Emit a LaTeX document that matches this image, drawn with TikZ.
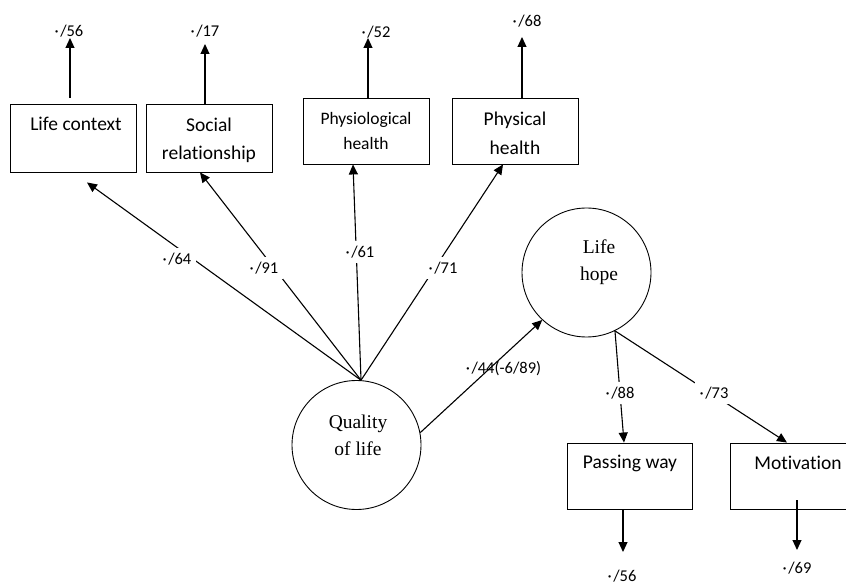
\documentclass[tikz,border=0pt]{standalone}
\usepackage{fontspec}
\setmainfont{Carlito}[Ligatures=NoCommon]
\newfontfamily\timesfont{Liberation Serif}
\usetikzlibrary{arrows.meta}
\newcommand{\md}{·\hspace{1.5pt}}
\begin{document}
\begin{tikzpicture}[x=1pt,y=-1pt,
  box/.style={draw, line width=0.9pt, minimum width=126pt, minimum height=68pt, inner sep=0pt},
  latent/.style={draw, circle, line width=0.9pt, minimum size=129pt, inner sep=0pt},
  btxt/.style={font=\fontsize{19.5}{28}\selectfont, align=center, inner sep=0pt},
  ctxt/.style={font=\timesfont\fontsize{19.5}{27}\selectfont, align=center, inner sep=0pt},
  lbl/.style={font=\fontsize{16.5}{20}\selectfont, inner sep=1pt},
  gap/.style={lbl, fill=white, inner sep=5pt},
  arr/.style={line width=1.1pt, -{Triangle[length=10pt,width=9pt]}}]
\useasboundingbox (0,0) rectangle (846,585);
\clip (0,0) rectangle (846,585);

% observed variables
\node[box] (lc) at (73,138) {};
\node[box] (sr) at (209,138) {};
\node[box, minimum height=66pt] (ph) at (366,131) {};
\node[box, minimum height=66pt] (py) at (515,131) {};
\node[box, minimum width=125pt, minimum height=66pt] (pw) at (629.5,476) {};
\node[box, minimum width=136pt, minimum height=66pt] (mo) at (798,476) {};

\node[btxt] (lct) at (76,124) {Life context};
\node[btxt] (srt) at (209,140) {Social\\relationship};
\node[btxt, font=\fontsize{17.5}{25}\selectfont] (pht) at (366,131) {Physiological\\health};
\node[btxt, font=\fontsize{19.5}{29}\selectfont] (pyt) at (515,133) {Physical\\health};
\node[btxt] (pwt) at (630,463) {Passing way};
\node[btxt] (mot) at (798,463) {Motivation};

% latent variables
\node[latent] (qol) at (356.5,445) {};
\node[ctxt] (qolt) at (358,435) {Quality\\of life};
\node[latent] (lh) at (586.5,272.5) {};
\node[ctxt] (lht) at (599,262.5) {Life\\hope};

% error arrows, top
\coordinate (t1) at (70,38);
\coordinate (t2) at (205,44);
\coordinate (t3) at (368,38);
\coordinate (t4) at (522,37);
\draw[arr] ([shift={(-3,-6)}]lc.north) -- (t1);
\draw[arr] ([shift={(-4,0)}]sr.north) -- (t2);
\draw[arr] ([shift={(2,0)}]ph.north) -- (t3);
\draw[arr] ([shift={(7,0)}]py.north) -- (t4);
\node[lbl] (e1) at (69,31) {\md/56};
\node[lbl] (e2) at (205,31) {\md/17};
\node[lbl] (e3) at (376,32) {\md/52};
\node[lbl] (e4) at (527,21) {\md/68};

% loadings of quality of life
\draw[arr] (qol.86) -- ([shift={(14,10)}]lc.south);
\draw[arr] (qol.86) -- ([shift={(-9,0)}]sr.south);
\draw[arr] (qol.86) -- ([shift={(-13,0)}]ph.south);
\draw[arr] (qol.86) -- ([shift={(-12,0)}]py.south);
\draw[arr] (qol.11) -- (lh.-133);

% loadings of life hope
\draw[arr] (lh.-64) -- ([shift={(-5.5,0)}]pw.north);
\draw[arr] (lh.-64) -- ([shift={(-11,0)}]mo.north);

% error arrows, bottom
\coordinate (b1) at (623,552);
\coordinate (b2) at (797,550);
\draw[arr] ([shift={(-6.5,0)}]pw.south) -- (b1);
\draw[arr] ([shift={(-1,-9)}]mo.south) -- (b2);
\node[lbl] (e5) at (622,576) {\md/56};
\node[lbl] (e6) at (797,568) {\md/69};

% path labels
\node[gap] (l64) at (177,259) {\md/64};
\node[gap] (l91) at (264,268) {\md/91};
\node[gap] (l61) at (360,252) {\md/61};
\node[gap] (l71) at (443,268) {\md/71};
\node[gap] (l88) at (620,393) {\md/88};
\node[gap] (l73) at (714,393) {\md/73};
\node[lbl] (l44) at (503.5,369) {\md/44(-6/89)};
\end{tikzpicture}
\end{document}
